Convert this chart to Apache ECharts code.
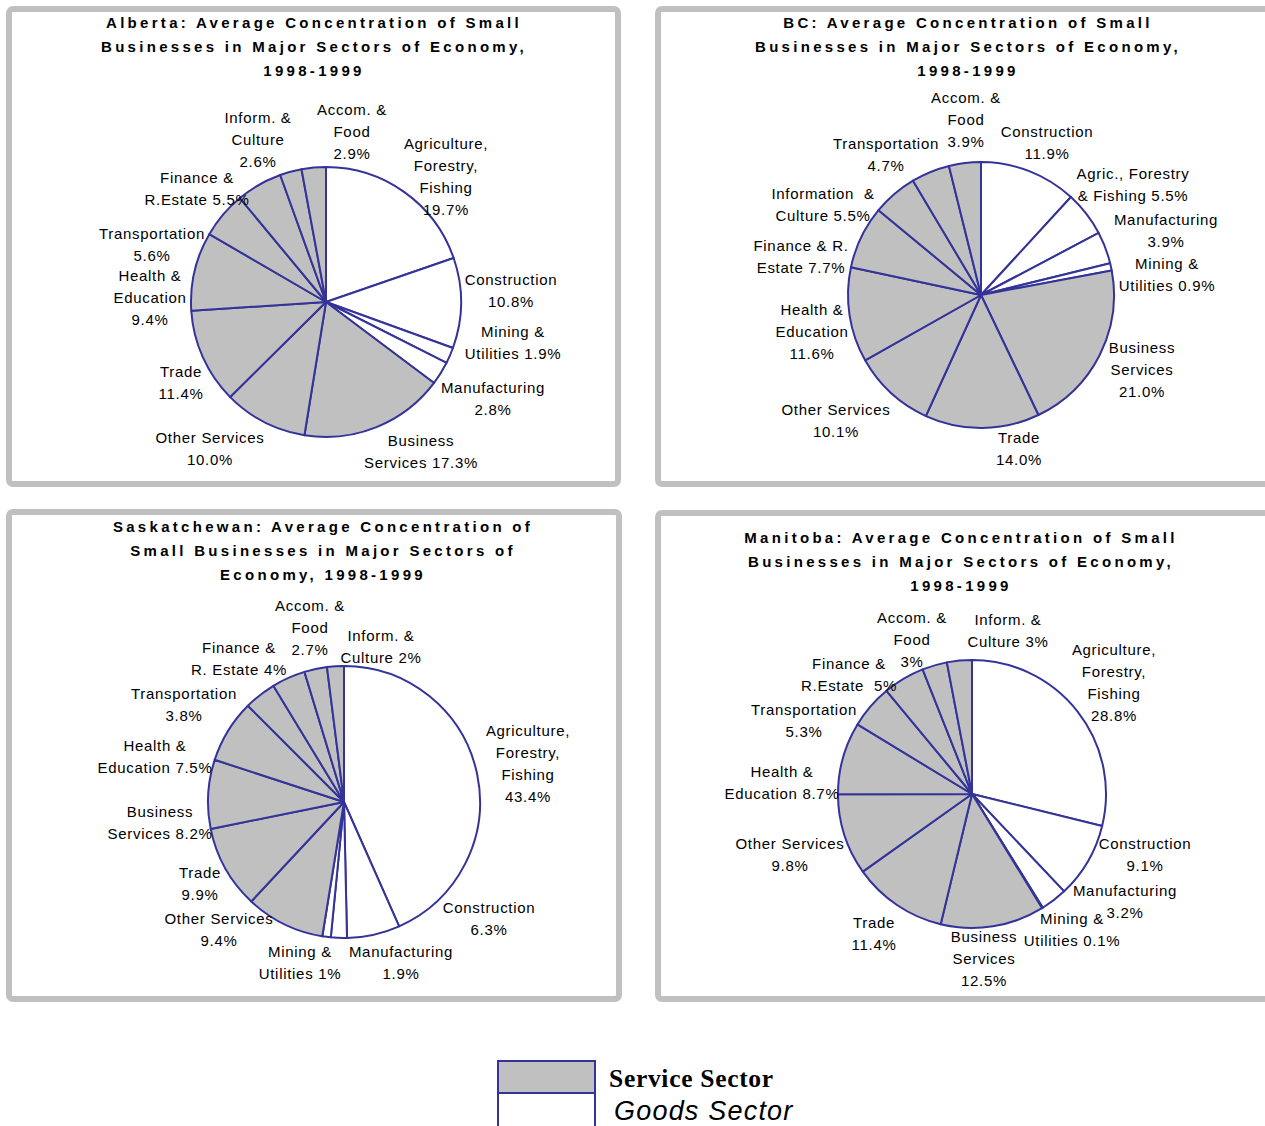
<!DOCTYPE html>
<html>
<head>
<meta charset="utf-8">
<title>Average Concentration of Small Businesses in Major Sectors of Economy, 1998-1999</title>
<script src="https://cdn.jsdelivr.net/npm/echarts@6/dist/echarts.min.js"></script>
<style>
  html, body { margin: 0; padding: 0; background: #ffffff; }
  #chart { width: 1265px; height: 1126px; }
  /* the printed report sets its type loosely; spread the letters a little */
  #chart svg text { letter-spacing: 0.7px; }
  #chart svg text[style*="700"] { letter-spacing: 3.3px; }
  #chart svg text[style*="italic"] { letter-spacing: 1.2px; }
</style>
</head>
<body>
<div id="chart"></div>
<script>
// ---- Alberta ----
const albertaNames = ['Agriculture,\nForestry,\nFishing\n', 'Construction\n', 'Mining &\nUtilities ', 'Manufacturing\n',
  'Business\nServices ', 'Other Services\n', 'Trade\n', 'Health &\nEducation\n', 'Transportation\n',
  'Finance &\nR.Estate ', 'Inform. &\nCulture\n', 'Accom. &\nFood\n'];
const albertaValues = [19.7, 10.8, 1.9, 2.8, 17.3, 10.0, 11.4, 9.4, 5.6, 5.5, 2.6, 2.9];
const albertaSectors = ['G', 'G', 'G', 'G', 'S', 'S', 'S', 'S', 'S', 'S', 'S', 'S'];

// ---- British Columbia ----
const bcNames = ['Construction\n', 'Agric., Forestry\n& Fishing ', 'Manufacturing\n', 'Mining &\nUtilities ',
  'Business\nServices\n', 'Trade\n', 'Other Services\n', 'Health &\nEducation\n', 'Finance & R.\nEstate ',
  'Information  &\nCulture ', 'Transportation\n', 'Accom. &\nFood\n'];
const bcValues = [11.9, 5.5, 3.9, 0.9, 21.0, 14.0, 10.1, 11.6, 7.7, 5.5, 4.7, 3.9];
const bcSectors = ['G', 'G', 'G', 'G', 'S', 'S', 'S', 'S', 'S', 'S', 'S', 'S'];

// ---- Saskatchewan ----
const saskNames = ['Agriculture,\nForestry,\nFishing\n', 'Construction\n', 'Manufacturing\n', 'Mining &\nUtilities ',
  'Other Services\n', 'Trade\n', 'Business\nServices ', 'Health &\nEducation ', 'Transportation\n',
  'Finance &\nR. Estate ', 'Accom. &\nFood\n', 'Inform. &\nCulture '];
const saskValues = [43.4, 6.3, 1.9, 1, 9.4, 9.9, 8.2, 7.5, 3.8, 4, 2.7, 2];
const saskSectors = ['G', 'G', 'G', 'G', 'S', 'S', 'S', 'S', 'S', 'S', 'S', 'S'];

// ---- Manitoba ----
const manitobaNames = ['Agriculture,\nForestry,\nFishing\n', 'Construction\n', 'Manufacturing\n', 'Mining &\nUtilities ',
  'Business\nServices\n', 'Trade\n', 'Other Services\n', 'Health &\nEducation ', 'Transportation\n',
  'Finance &\nR.Estate  ', 'Accom. &\nFood\n', 'Inform. &\nCulture '];
const manitobaValues = [28.8, 9.1, 3.2, 0.1, 12.5, 11.4, 9.8, 8.7, 5.3, 5, 3, 3];
const manitobaSectors = ['G', 'G', 'G', 'G', 'S', 'S', 'S', 'S', 'S', 'S', 'S', 'S'];

const legendNames = ['Service Sector', 'Goods Sector'];

// ---- styling and layout ----
const EDGE = '#333399';
const SECTOR_FILL = { S: '#c0c0c0', G: '#ffffff' };
const LABEL_FONT = 'Arial, "Liberation Sans", sans-serif';

const panels = [
  {
    title: 'Alberta: Average Concentration of Small\nBusinesses in Major Sectors of Economy,\n1998-1999',
    titleAt: [314, 10], box: [9, 9, 609, 475],
    center: [326, 302], radius: 135, decimals: 1,
    names: albertaNames, values: albertaValues, sectors: albertaSectors,
    labelAt: [[446, 176], [511, 290], [513, 342], [493, 398], [421, 451], [210, 448],
              [181, 382], [150, 297], [152, 244], [197, 188], [258, 139], [352, 131]]
  },
  {
    title: 'BC: Average Concentration of Small\nBusinesses in Major Sectors of Economy,\n1998-1999',
    titleAt: [968, 10], box: [658, 9, 620, 475],
    center: [981, 295], radius: 133, decimals: 1,
    names: bcNames, values: bcValues, sectors: bcSectors,
    labelAt: [[1047, 142], [1133, 184], [1166, 230], [1167, 274], [1142, 369], [1019, 448],
              [836, 420], [812, 331], [801, 256], [823, 204], [886, 154], [966, 119]]
  },
  {
    title: 'Saskatchewan: Average Concentration of\nSmall Businesses in Major Sectors of\nEconomy, 1998-1999',
    titleAt: [323, 514], box: [9, 512, 610, 487],
    center: [344, 802], radius: 136, decimals: 0,
    names: saskNames, values: saskValues, sectors: saskSectors,
    labelAt: [[528, 763], [489, 918], [401, 962], [300, 962], [219, 929], [200, 883],
              [160, 822], [155, 756], [184, 704], [239, 658], [310, 627], [381, 646]]
  },
  {
    title: 'Manitoba: Average Concentration of Small\nBusinesses in Major Sectors of Economy,\n1998-1999',
    titleAt: [961, 525], box: [658, 513, 620, 486],
    center: [972, 794], radius: 134, decimals: 0,
    names: manitobaNames, values: manitobaValues, sectors: manitobaSectors,
    labelAt: [[1114, 682], [1145, 854], [1125, 901], [1072, 929], [984, 958], [874, 933],
              [790, 854], [782, 782], [804, 720], [849, 674], [912, 639], [1008, 630]]
  }
];

function formatValue(v, decimals) {
  return decimals ? v.toFixed(decimals) : String(v);
}

const series = panels.map(function (p) {
  return {
    type: 'pie',
    center: p.center,
    radius: p.radius,
    startAngle: 90,
    clockwise: true,
    avoidLabelOverlap: false,
    silent: true,
    animation: false,
    itemStyle: { borderColor: EDGE, borderWidth: 2 },
    label: {
      show: true,
      position: 'outside',
      color: '#000000',
      fontFamily: LABEL_FONT,
      fontSize: 15,
      lineHeight: 22,
      formatter: function (d) {
        return p.names[d.dataIndex] + formatValue(d.value, p.decimals) + '%';
      }
    },
    labelLine: { show: false },
    labelLayout: function (params) {
      const at = p.labelAt[params.dataIndex];
      return { x: at[0], y: at[1], align: 'center', verticalAlign: 'middle' };
    },
    data: p.values.map(function (v, i) {
      return {
        name: p.names[i].replace(/\s+$/, '').replace(/\n/g, ' '),
        value: v,
        itemStyle: { color: SECTOR_FILL[p.sectors[i]] }
      };
    })
  };
});

const graphics = [];
panels.forEach(function (p) {
  graphics.push({
    type: 'rect', silent: true, z: 0,
    shape: { x: p.box[0], y: p.box[1], width: p.box[2], height: p.box[3], r: 4 },
    style: { fill: 'none', stroke: '#c0c0c0', lineWidth: 6 }
  });
  graphics.push({
    type: 'text', silent: true, z: 10,
    x: p.titleAt[0], y: p.titleAt[1],
    style: {
      text: p.title, align: 'center', verticalAlign: 'top',
      fontFamily: '"Liberation Sans", Arial, sans-serif', fontWeight: 700,
      fontSize: 15, lineHeight: 24, fill: '#000000'
    }
  });
});

// sector key below the four pies
graphics.push(
  { type: 'rect', silent: true, shape: { x: 498, y: 1061, width: 97, height: 32 },
    style: { fill: SECTOR_FILL.S, stroke: EDGE, lineWidth: 2 } },
  { type: 'rect', silent: true, shape: { x: 498, y: 1093, width: 97, height: 45 },
    style: { fill: SECTOR_FILL.G, stroke: EDGE, lineWidth: 2 } },
  { type: 'text', silent: true, x: 609, y: 1078,
    style: { text: legendNames[0], align: 'left', verticalAlign: 'middle',
             fontFamily: '"Liberation Serif", "Times New Roman", serif', fontWeight: 'bold',
             fontSize: 25.5, fill: '#000000' } },
  { type: 'text', silent: true, x: 614, y: 1111,
    style: { text: legendNames[1], align: 'left', verticalAlign: 'middle',
             fontFamily: 'Arial, "Liberation Sans", sans-serif', fontStyle: 'italic',
             fontSize: 27, fill: '#000000' } }
);

const chart = echarts.init(document.getElementById('chart'), null, { renderer: 'svg' });
chart.setOption({
  backgroundColor: '#ffffff',
  animation: false,
  series: series,
  graphic: { elements: graphics }
});
</script>
</body>
</html>
